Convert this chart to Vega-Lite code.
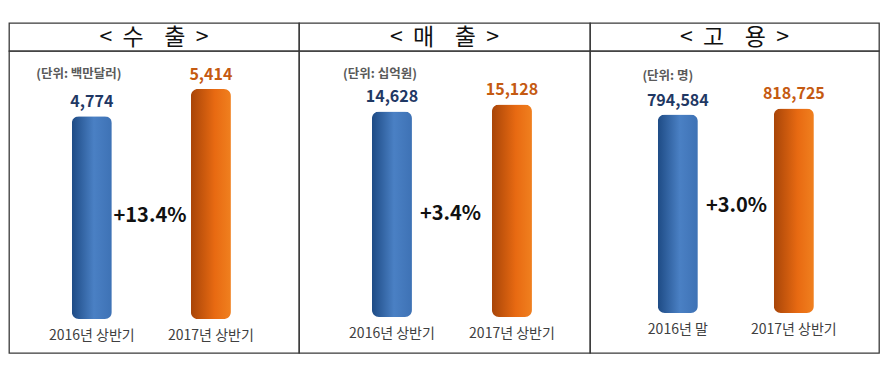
{
  "$schema": "https://vega.github.io/schema/vega-lite/v6.json",
  "padding": {"left": 8, "top": 22, "right": 11, "bottom": 23},
  "background": "white",
  "config": {
    "font": "Noto Sans CJK KR",
    "view": {"stroke": "#3a3a3a", "strokeWidth": 1.3}
  },
  "columns": 3,
  "spacing": 0,
  "bounds": "flush",
  "concat": [
    {
      "width": 290, "height": 28,
      "data": {"values": [{"t": "<\u00a0\u00a0수\u00a0\u00a0\u00a0\u00a0출\u00a0\u00a0>"}]},
      "mark": {"type": "text", "fontSize": 23, "color": "#111111", "dy": 1},
      "encoding": {"x": {"field": "t", "type": "nominal", "axis": null}, "text": {"field": "t"}}
    },
    {
      "width": 291, "height": 28,
      "data": {"values": [{"t": "<\u00a0\u00a0매\u00a0\u00a0\u00a0\u00a0출\u00a0\u00a0>"}]},
      "mark": {"type": "text", "fontSize": 23, "color": "#111111", "dy": 1},
      "encoding": {"x": {"field": "t", "type": "nominal", "axis": null}, "text": {"field": "t"}}
    },
    {
      "width": 289, "height": 28,
      "data": {"values": [{"t": "<\u00a0\u00a0고\u00a0\u00a0\u00a0\u00a0용\u00a0\u00a0>"}]},
      "mark": {"type": "text", "fontSize": 23, "color": "#111111", "dy": 1},
      "encoding": {"x": {"field": "t", "type": "nominal", "axis": null}, "text": {"field": "t"}}
    },
    {
      "width": 290, "height": 302,
      "data": {"values": [
        {"cat": "2016년 상반기", "value": 4774, "idx": 0},
        {"cat": "2017년 상반기", "value": 5414, "idx": 1}
      ]},
      "layer": [
        {
          "mark": {"type": "bar", "cornerRadius": 7},
          "encoding": {
            "x": {"field": "cat", "type": "nominal",
              "scale": {"paddingInner": 0.664, "paddingOuter": 0.55, "align": 0.48},
              "axis": {"title": null, "domain": false, "ticks": false, "tickSize": 0, "labelAngle": 0, "labelFontSize": 14, "labelColor": "#404040", "labelPadding": 0, "labelBaseline": "middle", "offset": -18, "grid": false}},
            "y": {"field": "value", "type": "quantitative", "scale": {"domain": [-800, 6309], "nice": false, "zero": false}, "axis": null},
            "fill": {
              "condition": {"test": "datum.idx == 0", "value": {"gradient": "linear", "x1": 0, "y1": 0, "x2": 1, "y2": 0, "stops": [{"offset": 0, "color": "#1E4B85"}, {"offset": 0.55, "color": "#4A80C4"}, {"offset": 1, "color": "#3E72B5"}]}},
              "value": {"gradient": "linear", "x1": 0, "y1": 0, "x2": 1, "y2": 0, "stops": [{"offset": 0, "color": "#A84508"}, {"offset": 0.6, "color": "#E86A12"}, {"offset": 1, "color": "#F0801F"}]}
            }
          }
        },
        {
          "mark": {"type": "text", "fontSize": 16, "fontWeight": "bold", "dy": -14},
          "encoding": {
            "x": {"field": "cat", "type": "nominal"},
            "y": {"field": "value", "type": "quantitative"},
            "text": {"field": "value", "type": "quantitative", "format": ","},
            "color": {"condition": {"test": "datum.idx == 0", "value": "#1F3864"}, "value": "#C55A11"}
          }
        },
        {
          "data": {"values": [{"t": "+13.4%"}]},
          "mark": {"type": "text", "fontSize": 20, "fontWeight": "bold", "dx": -4, "dy": 14, "color": "#111111"},
          "encoding": {"text": {"field": "t"}}
        },
        {
          "data": {"values": [{"t": "(단위: 백만달러)", "cat": "2016년 상반기"}]},
          "mark": {"type": "text", "fontSize": 12.5, "fontWeight": "bold", "color": "#5a5a5a", "dx": -13, "dy": -128},
          "encoding": {"x": {"field": "cat", "type": "nominal"}, "text": {"field": "t"}}
        }
      ]
    },
    {
      "width": 291, "height": 302,
      "data": {"values": [
        {"cat": "2016년 상반기", "value": 14628, "idx": 0},
        {"cat": "2017년 상반기", "value": 15128, "idx": 1}
      ]},
      "layer": [
        {
          "mark": {"type": "bar", "cornerRadius": 7},
          "encoding": {
            "x": {"field": "cat", "type": "nominal",
              "scale": {"paddingInner": 0.667, "paddingOuter": 0.546, "align": 0.557},
              "axis": {"title": null, "domain": false, "ticks": false, "tickSize": 0, "labelAngle": 0, "labelFontSize": 14, "labelColor": "#404040", "labelPadding": 0, "labelBaseline": "middle", "offset": -20, "grid": false}},
            "y": {"field": "value", "type": "quantitative", "scale": {"domain": [-2562, 18932], "nice": false, "zero": false}, "axis": null},
            "fill": {
              "condition": {"test": "datum.idx == 0", "value": {"gradient": "linear", "x1": 0, "y1": 0, "x2": 1, "y2": 0, "stops": [{"offset": 0, "color": "#1E4B85"}, {"offset": 0.55, "color": "#4A80C4"}, {"offset": 1, "color": "#3E72B5"}]}},
              "value": {"gradient": "linear", "x1": 0, "y1": 0, "x2": 1, "y2": 0, "stops": [{"offset": 0, "color": "#A84508"}, {"offset": 0.6, "color": "#E86A12"}, {"offset": 1, "color": "#F0801F"}]}
            }
          }
        },
        {
          "mark": {"type": "text", "fontSize": 16, "fontWeight": "bold", "dy": -14},
          "encoding": {
            "x": {"field": "cat", "type": "nominal"},
            "y": {"field": "value", "type": "quantitative"},
            "text": {"field": "value", "type": "quantitative", "format": ","},
            "color": {"condition": {"test": "datum.idx == 0", "value": "#1F3864"}, "value": "#C55A11"}
          }
        },
        {
          "data": {"values": [{"t": "+3.4%"}]},
          "mark": {"type": "text", "fontSize": 20, "fontWeight": "bold", "dx": 6, "dy": 12, "color": "#111111"},
          "encoding": {"text": {"field": "t"}}
        },
        {
          "data": {"values": [{"t": "(단위: 십억원)", "cat": "2016년 상반기"}]},
          "mark": {"type": "text", "fontSize": 12.5, "fontWeight": "bold", "color": "#5a5a5a", "dx": -12, "dy": -128},
          "encoding": {"x": {"field": "cat", "type": "nominal"}, "text": {"field": "t"}}
        }
      ]
    },
    {
      "width": 289, "height": 302,
      "data": {"values": [
        {"cat": "2016년 말", "value": 794584, "idx": 0},
        {"cat": "2017년 상반기", "value": 818725, "idx": 1}
      ]},
      "layer": [
        {
          "mark": {"type": "bar", "cornerRadius": 7},
          "encoding": {
            "x": {"field": "cat", "type": "nominal",
              "scale": {"paddingInner": 0.655, "paddingOuter": 0.573, "align": 0.51},
              "axis": {"title": null, "domain": false, "ticks": false, "tickSize": 0, "labelAngle": 0, "labelFontSize": 14, "labelColor": "#404040", "labelPadding": 0, "labelBaseline": "middle", "offset": -24, "grid": false}},
            "y": {"field": "value", "type": "quantitative", "scale": {"domain": [-160128, 1048839], "nice": false, "zero": false}, "axis": null},
            "fill": {
              "condition": {"test": "datum.idx == 0", "value": {"gradient": "linear", "x1": 0, "y1": 0, "x2": 1, "y2": 0, "stops": [{"offset": 0, "color": "#1E4B85"}, {"offset": 0.55, "color": "#4A80C4"}, {"offset": 1, "color": "#3E72B5"}]}},
              "value": {"gradient": "linear", "x1": 0, "y1": 0, "x2": 1, "y2": 0, "stops": [{"offset": 0, "color": "#A84508"}, {"offset": 0.6, "color": "#E86A12"}, {"offset": 1, "color": "#F0801F"}]}
            }
          }
        },
        {
          "mark": {"type": "text", "fontSize": 16, "fontWeight": "bold", "dy": -14},
          "encoding": {
            "x": {"field": "cat", "type": "nominal"},
            "y": {"field": "value", "type": "quantitative"},
            "text": {"field": "value", "type": "quantitative", "format": ","},
            "color": {"condition": {"test": "datum.idx == 0", "value": "#1F3864"}, "value": "#C55A11"}
          }
        },
        {
          "data": {"values": [{"t": "+3.0%"}]},
          "mark": {"type": "text", "fontSize": 20, "fontWeight": "bold", "dx": 2, "dy": 4, "color": "#111111"},
          "encoding": {"text": {"field": "t"}}
        },
        {
          "data": {"values": [{"t": "(단위: 명)", "cat": "2016년 말"}]},
          "mark": {"type": "text", "fontSize": 12.5, "fontWeight": "bold", "color": "#5a5a5a", "dx": -10, "dy": -126},
          "encoding": {"x": {"field": "cat", "type": "nominal"}, "text": {"field": "t"}}
        }
      ]
    }
  ]
}
